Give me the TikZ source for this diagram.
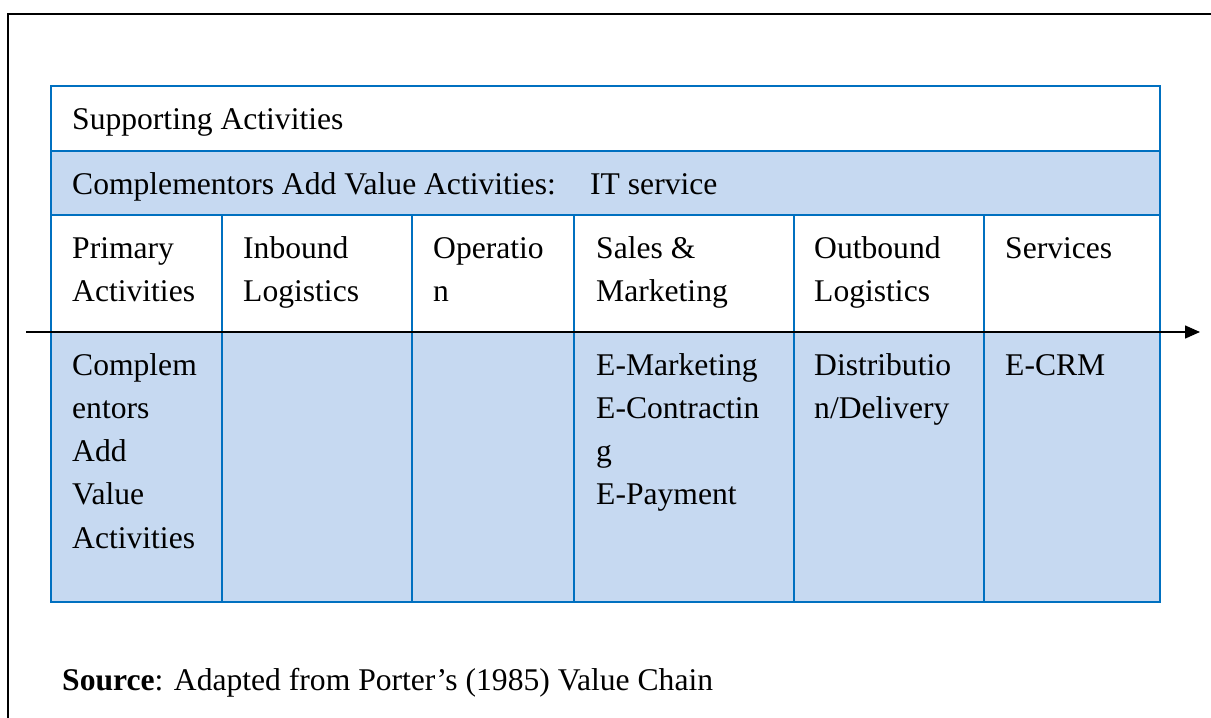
\documentclass[tikz,border=0pt]{standalone}
\usepackage{fontspec}
\setmainfont{Liberation Serif}
\usetikzlibrary{arrows.meta}
\definecolor{cellblue}{HTML}{C6D9F1}
\definecolor{lineblue}{HTML}{0070C0}
\begin{document}
\begin{tikzpicture}[x=1pt,y=-1pt,
  celltext/.style={anchor=base west,inner sep=0pt,align=left,
    font=\fontsize{31.6}{43.25}\selectfont},
  grid/.style={draw=lineblue,line width=1.5pt},
  frame/.style={draw=black,line width=2pt}]
\useasboundingbox (0,0) rectangle (1211,718);
% outer frame (partial)
\draw[frame] (1211,14) -- (8,14) -- (8,718);
% fills
\fill[cellblue] (51,151) rectangle (1160,215);
\fill[cellblue] (51,332) rectangle (1160,602);
% grid lines
\draw[grid] (51,151) -- (1160,151);
\draw[grid] (51,215) -- (1160,215);
\foreach \x in {222,412,574,794,984}{\draw[grid,line width=1.2pt] (\x,215) -- (\x,602);}
\draw[grid,line width=2pt] (51,86) rectangle (1160,602);
% arrow
\coordinate (as) at (26,332);
\coordinate (ae) at (1200,332);
\draw[line width=1.5pt,-{Triangle[length=15pt,width=13pt]}] (as) -- (ae);
% texts (base anchor = baseline of the last line)
\node[celltext] (sup) at (72,129) {Supporting Activities};
\node[celltext] (comp) at (72,194) {Complementors Add Value Activities:};
\node[celltext] (its) at (590,194) {IT service};
\node[celltext] (p1) at (72,301.25) {Primary\\Activities};
\node[celltext] (p2) at (243,301.25) {Inbound\\Logistics};
\node[celltext] (p3) at (433,301.25) {Operatio\\n};
\node[celltext] (p4) at (596,301.25) {Sales \&\\Marketing};
\node[celltext] (p5) at (814,301.25) {Outbound\\Logistics};
\node[celltext] (p6) at (1005,258) {Services};
\node[celltext] (c1) at (72,548) {Complem\\entors\\Add\\Value\\Activities};
\node[celltext] (c4) at (596,504.75) {E-Marketing\\E-Contractin\\g\\E-Payment};
\node[celltext] (c5) at (814,418.25) {Distributio\\n/Delivery};
\node[celltext] (c6) at (1005,375) {E-CRM};
\node[celltext] (src) at (62,690) {\textbf{Source}: Adapted from Porter’s (1985) Value Chain};
\end{tikzpicture}
\end{document}
